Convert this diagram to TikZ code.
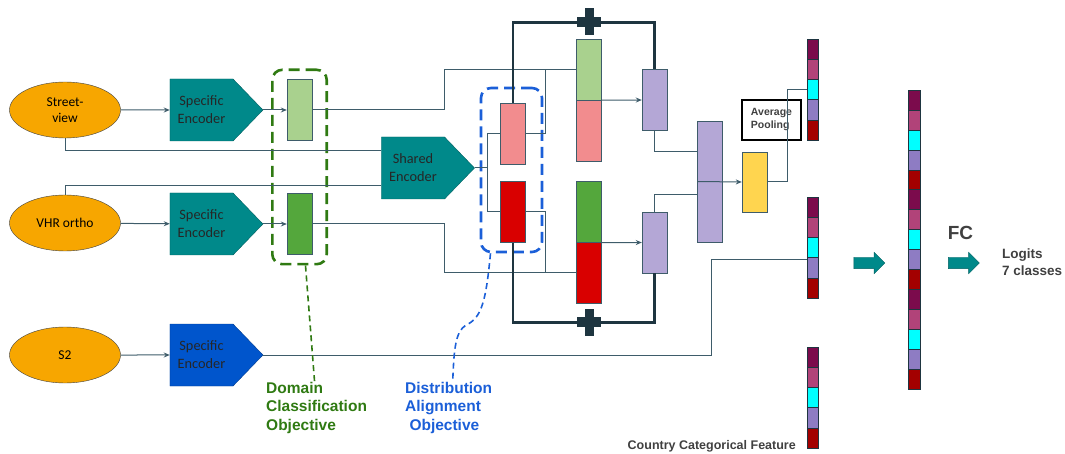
\documentclass[tikz,border=0pt]{standalone}
\usepackage{fontspec}
\setmainfont{Carlito}
\newfontfamily\labelfont{Liberation Sans}
\usetikzlibrary{shapes.geometric, shapes.symbols, shapes.arrows, arrows.meta, fit}

\definecolor{srcorange}{HTML}{F7A600}
\definecolor{encteal}{HTML}{00898A}
\definecolor{encblue}{HTML}{0055CC}
\definecolor{lightgreen}{HTML}{A9D18E}
\definecolor{midgreen}{HTML}{54A73C}
\definecolor{lightred}{HTML}{F28C8E}
\definecolor{darkred}{HTML}{D90000}
\definecolor{lilac}{HTML}{B4A7D6}
\definecolor{poolyellow}{HTML}{FFD54F}
\definecolor{linkgray}{HTML}{3E5C6A}
\definecolor{loopdark}{HTML}{1E3540}
\definecolor{domaingreen}{HTML}{2F7A12}
\definecolor{alignblue}{HTML}{1B5FD8}
\definecolor{textgray}{HTML}{404040}
\definecolor{vplum}{HTML}{7B0B4C}
\definecolor{vrose}{HTML}{B14379}
\definecolor{vcyan}{HTML}{00FFFF}
\definecolor{vviolet}{HTML}{8E7CC3}
\definecolor{vred}{HTML}{A30000}

\tikzset{
	source/.style={ellipse, draw=textgray, fill=srcorange, minimum width=111pt, minimum height=56pt, align=center, font=\fontsize{13.5}{16}\selectfont}, % input modalities
	encoder/.style={signal, signal to=east, signal pointer angle=92, draw=encteal!70!black, fill=encteal, minimum width=93pt, minimum height=62pt, align=center, text=black!85, font=\fontsize{14.3}{18}\selectfont},
	feat/.style={draw=linkgray, minimum width=25pt, minimum height=61pt, inner sep=0pt}, % embedding blocks
	cell/.style={draw=loopdark, minimum width=11.5pt, minimum height=20.2pt, inner sep=0pt},
	link/.style={draw=linkgray, line width=1pt},
	flow/.style={link, -{Stealth[length=6pt,width=5pt]}},
	loopline/.style={draw=loopdark, line width=2.6pt},
	addsign/.style={minimum width=24pt, minimum height=27pt, inner sep=0pt,
		path picture={
			\fill[loopdark] ([xshift=-12pt, yshift=-5pt]path picture bounding box.center) rectangle ([xshift=12pt, yshift=5pt]path picture bounding box.center);
			\fill[loopdark] ([xshift=-4.5pt, yshift=-13.5pt]path picture bounding box.center) rectangle ([xshift=4.5pt, yshift=13.5pt]path picture bounding box.center);
		}},
	blockarrow/.style={single arrow, fill=encteal, draw=encteal!70!black, minimum height=31pt, inner sep=5.5pt, single arrow head extend=5pt},
	objective/.style={draw, line width=2.6pt, dash pattern=on 11pt off 6pt, rounded corners=10pt},
	note/.style={align=left, inner sep=0pt, text=textgray, font=\labelfont\bfseries},
}

\begin{document}
\begin{tikzpicture}[x=1pt, y=-1pt]
	\useasboundingbox (0,0) rectangle (1065,454);

	% inputs and their own encoders
	\node[source] (street) at (65,110) {Street-\\view};
	\node[source] (vhr) at (65,223) {VHR ortho};
	\node[source] (s2) at (65,355) {S2};
	\node[encoder] (spec1) at (201.5,110) {Specific\\Encoder};
	\node[encoder] (spec2) at (201.5,224) {Specific\\Encoder};
	\node[encoder, fill=encblue, draw=encblue!70!black] (spec3) at (201.5,355) {Specific\\Encoder};
	\node[encoder] (shared) at (413,168) {Shared\\Encoder};

	% specific and shared embeddings
	\node[feat, fill=lightgreen] (gs1) at (299.5,110) {};
	\node[feat, fill=midgreen] (gs2) at (299.5,224) {};
	\node[feat, fill=lightred] (sh1) at (513,133.5) {};
	\node[feat, fill=darkred] (sh2) at (513,212) {};

	% concatenated blocks
	\node[feat, fill=lightgreen] (cat1a) at (589,69.5) {};
	\node[feat, fill=lightred] (cat1b) at (589,130.5) {};
	\node[feat, fill=midgreen] (cat2a) at (589,212) {};
	\node[feat, fill=darkred] (cat2b) at (589,272.5) {};

	\node[feat, fill=lilac] (mix1) at (654.5,100) {};
	\node[feat, fill=lilac] (mix2) at (654.5,242.5) {};
	\node[feat, fill=lilac, minimum height=121pt] (fused) at (710,181.5) {};
	\node[feat, fill=poolyellow, minimum height=60pt] (pooled) at (754.5,182) {};
	\node[draw=black, line width=1.6pt, minimum width=59pt, minimum height=40pt, note, font=\labelfont\bfseries\fontsize{10.5}{13}\selectfont] (avgpool) at (771.5,120) {Average\\Pooling};

	% feature vectors
	\foreach \c [count=\i] in {vplum,vrose,vcyan,vviolet,vred} {
		\node[cell, fill=\c] (pv\i) at (812.5,28.9+20.2*\i) {};
		\node[cell, fill=\c] (sv\i) at (812.5,186.9+20.2*\i) {};
		\node[cell, fill=\c] (cv\i) at (812.5,336.9+20.2*\i) {};
	}
	\foreach \c [count=\i] in {vplum,vrose,vcyan,vviolet,vred,vplum,vrose,vcyan,vviolet,vred,vplum,vrose,vcyan,vviolet,vred}
		\node[cell, fill=\c, minimum width=12pt, minimum height=19.93pt] (fv\i) at (914,80.07+19.93*\i) {};

	\node[blockarrow] (arr1) at (866.5,263) {};
	\node[blockarrow] (arr2) at (961,263) {};

	% objectives
	\node[objective, draw=domaingreen, fit=(gs1)(gs2), inner xsep=14.5pt, inner ysep=9.5pt] (domain) {};
	\node[objective, draw=alignblue, minimum width=61pt, minimum height=164pt] (align) at (511.5,170) {};

	% labels
	\node[note, text=domaingreen, anchor=north west, font=\labelfont\bfseries\fontsize{15.5}{18.5}\selectfont] (domainlbl) at (266,382) {Domain\\Classification\\Objective};
	\node[note, text=alignblue, anchor=north west, font=\labelfont\bfseries\fontsize{15.5}{18.5}\selectfont] (alignlbl) at (405,382) {Distribution\\Alignment\\\ Objective};
	\node[note, anchor=base east, font=\labelfont\bfseries\fontsize{12.5}{15}\selectfont] (ctrylbl) at (796,449) {Country Categorical Feature};
	\node[note, font=\labelfont\bfseries\fontsize{19}{22}\selectfont] (fc) at (960.5,233) {FC};
	\node[note, anchor=west, font=\labelfont\bfseries\fontsize{13.5}{17}\selectfont] (logits) at (1002,262) {Logits\\7 classes};

	% connectors
	\draw[flow] (street) -- (spec1);
	\draw[flow] (vhr) -- (spec2);
	\draw[flow] (s2) -- (spec3);
	\draw[flow] (spec1.east) -- (gs1);
	\draw[flow] (spec2.east) -- (gs2);
	\draw[link] (street.south) |- ([yshift=17pt]shared.west);
	\draw[link] (vhr.north) |- ([yshift=-18pt]shared.west);
	\draw[link] (shared.east) -- ++(13,0) |- (sh1.west);
	\draw[link] (shared.east) ++(13,0) |- (sh2.west);
	\draw[link] (gs1.east) -- ++(132,0) |- (cat1a.west);
	\draw[link] (sh1.east) -- ++(20,0) |- (cat1a.west);
	\draw[link] (gs2.east) -- ++(132,0) |- (cat2b.west);
	\draw[link] (sh2.east) -- ++(20,0) |- (cat2b.west);
	\draw[flow] (cat1a.south east) -- (mix1.west);
	\draw[flow] (cat2a.south east) -- (mix2.west);
	\draw[loopline] (sh1.north) -- ++(0,-80) -| (mix1.north);
	\draw[loopline] (sh2.south) -- ++(0,80) -| (mix2.south);
	\node[addsign] (add1) at (589,22) {};
	\node[addsign] (add2) at (589,322) {};
	\draw[link] (mix1.south) |- ([yshift=29.5pt]fused.west);
	\draw[link] (mix2.north) |- ([yshift=-13.5pt]fused.west);
	\draw[flow] (fused.west) -- (pooled.west);
	\draw[link] (pooled.east) -- ++(20,0) |- (pv3.west);
	\draw[link] (spec3.east) -- ++(448,0) |- ([yshift=-2.4pt]sv4.north west);
	\draw[domaingreen, line width=1.6pt, dash pattern=on 6pt off 4pt] ([xshift=6pt]domain.south) -- ([xshift=-2pt]domainlbl.north);
	\draw[alignblue, line width=1.6pt, dash pattern=on 6pt off 4pt] ([xshift=-21pt]align.south) .. controls (486,300) and (482,318) .. (466,325) .. controls (455,332) and (454,350) .. ([xshift=4pt]alignlbl.north);
\end{tikzpicture}
\end{document}
